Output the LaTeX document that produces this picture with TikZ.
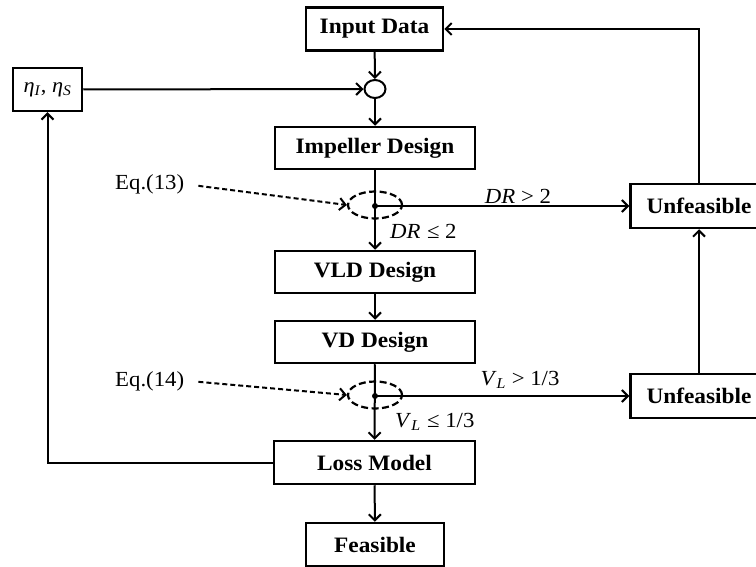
\documentclass[tikz,border=0pt]{standalone}
\usepackage{fontspec}
\setmainfont{Liberation Serif}[FakeStretch=1.06]
\usetikzlibrary{arrows.meta,shapes.geometric}
\begin{document}
\begin{tikzpicture}[x=1pt,y=-1pt,
  box/.style={draw, line width=2.5pt, minimum height=43pt, inner sep=0pt, font=\fontsize{22}{26}\selectfont\bfseries},
  lbl/.style={inner sep=0pt, font=\fontsize{21.5}{26}\selectfont},
  conn/.style={line width=2pt, -{Straight Barb[length=6pt,width=12pt]}},
  dconn/.style={line width=2pt, dash pattern=on 5pt off 3pt, -{Straight Barb[length=6pt,width=12pt]}},
  dellipse/.style={ellipse, draw, line width=2.2pt, dash pattern=on 7pt off 3.5pt, minimum width=54pt, minimum height=27pt, inner sep=0pt},
  dotn/.style={circle, fill, inner sep=0pt, minimum size=6pt},
  junction/.style={ellipse, draw, line width=2pt, minimum width=21pt, minimum height=18pt, inner sep=0pt}]
\useasboundingbox (0,0) rectangle (756,567);
\clip (0,0) rectangle (756,567);

% boxes
\node[box, minimum width=137pt] (input) at (374.5,29) {Input Data};
\node[junction] (circ) at (375,89) {};
\node[box, minimum width=69pt, font=\fontsize{21}{25}\selectfont] (eta) at (47.5,89.5) {\textit{η}\textsubscript{\textit{I}}, \textit{η}\textsubscript{\textit{S}}};
\node[box, minimum width=200pt, minimum height=42pt] (imp) at (375,148) {Impeller Design};
\node[dellipse] (ell1) at (375,205) {};
\node[dotn] (d1) at (375,206) {};
\node[box, minimum width=200pt, minimum height=42pt] (vld) at (375,272) {VLD Design};
\node[box, minimum width=200pt, minimum height=42pt] (vd) at (375,342) {VD Design};
\node[dellipse] (ell2) at (375,395) {};
\node[dotn] (d2) at (375,396) {};
\node[box, minimum width=201pt] (loss) at (374.5,462.5) {Loss Model};
\node[box, minimum width=138pt] (feas) at (375,544.5) {Feasible};
\node[box, minimum width=137pt, minimum height=44pt] (unf1) at (699,206) {Unfeasible};
\node[box, minimum width=137pt, minimum height=44pt] (unf2) at (699,396) {Unfeasible};

% texts
\node[lbl, anchor=base west] (eq13) at (115,190) {Eq.(13)};
\node[lbl, anchor=base west] (eq14) at (115,386) {Eq.(14)};
\node[lbl, anchor=base] (l1) at (518,204) {\textit{DR} > 2};
\node[lbl, anchor=base west] (l2) at (390,239) {\textit{DR}\hspace{0.3em}≤ 2};
\node[lbl, anchor=base] (l3) at (520,385) {\textit{V}\textsubscript{\textit{L}} > 1/3};
\node[lbl, anchor=base west] (l4) at (395,427) {\textit{V}\textsubscript{\textit{L}}\hspace{0.3em}≤ 1/3};

% connectors
\draw[conn] (input) -- (circ);
\draw[conn] (eta) -- (circ);
\draw[conn] (circ) -- (imp);
\draw[conn] (imp) -- (vld);
\draw[conn] (vld) -- (vd);
\draw[conn] (vd) -- (loss);
\draw[conn] (loss) -- (feas);
\draw[conn] (d1.center) -- (unf1.west);
\draw[conn] (d2.center) -- (unf2.west);
\draw[conn] (unf2) -- (unf1);
\draw[conn] (unf1.north) |- (input.east);
\draw[conn] (loss.west) -| (eta.south);
\draw[dconn] ([xshift=14pt,yshift=-1pt]eq13.east) -- (ell1.west);
\draw[dconn] ([xshift=14pt,yshift=-1pt]eq14.east) -- (ell2.west);
\end{tikzpicture}
\end{document}
